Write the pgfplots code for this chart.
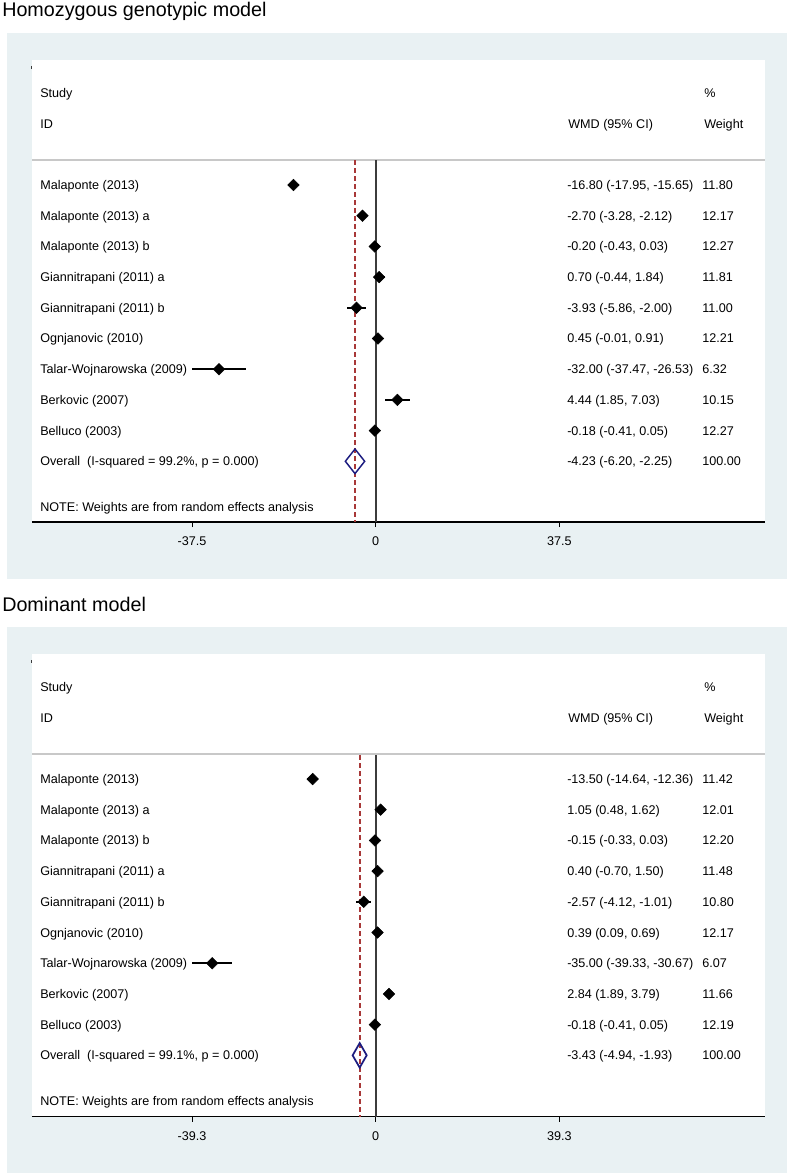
\documentclass[border=0pt]{standalone}
\usepackage{fontspec}
\setmainfont{Liberation Sans}
\usepackage{pgfplots}
\usepackage{pgfplotstable}
\pgfplotsset{compat=1.18}
\definecolor{bgc}{RGB}{233,241,243}
\definecolor{sepc}{RGB}{200,200,200}
\definecolor{zeroc}{RGB}{60,60,60}
\definecolor{dashc}{RGB}{168,56,56}
\definecolor{navyc}{RGB}{28,28,128}

% Homozygous genotypic model
\pgfplotstableread{
row est lo hi
1 -16.80 -17.95 -15.65
2 -2.70 -3.28 -2.12
3 -0.20 -0.43 0.03
4 0.70 -0.44 1.84
5 -3.93 -5.86 -2.00
6 0.45 -0.01 0.91
7 -32.00 -37.47 -26.53
8 4.44 1.85 7.03
9 -0.18 -0.41 0.05
}\tabA
% Dominant model
\pgfplotstableread{
row est lo hi
1 -13.50 -14.64 -12.36
2 1.05 0.48 1.62
3 -0.15 -0.33 0.03
4 0.40 -0.70 1.50
5 -2.57 -4.12 -1.01
6 0.39 0.09 0.69
7 -35.00 -39.33 -30.67
8 2.84 1.89 3.79
9 -0.18 -0.41 0.05
}\tabB

\newcommand\bodyfont{\fontsize{9.45pt}{11pt}\selectfont}
\newcommand\titlefont{\fontsize{14.8pt}{17pt}\selectfont}
\newcommand\rowtxt[5]{%
  \node[anchor=base west,inner sep=0pt] at (40,{#1+185+30.7*(#2-1)+4.5}) {#3};
  \node[anchor=base west,inner sep=0pt] at (567,{#1+185+30.7*(#2-1)+4.5}) {#4};
  \node[anchor=base west,inner sep=0pt] at (702,{#1+185+30.7*(#2-1)+4.5}) {#5};
}
\newcommand\panelbg[2]{% #1 offset, #2 title
  \node[anchor=base west,inner sep=0pt,font=\titlefont] at (2,{#1+17}) {#2};
  \fill[bgc] (7,{#1+33}) rectangle (787,{#1+579});
  \fill[white] (32,{#1+60}) rectangle (765,{#1+522});
  \draw[sepc,line width=1.1pt] (32,{#1+160}) -- (765,{#1+160});
  \draw[zeroc,line width=0.6pt] (31.5,{#1+66}) -- (31.5,{#1+69});
  \node[anchor=base west,inner sep=0pt] at (40,{#1+97.2}) {Study};
  \node[anchor=base west,inner sep=0pt] at (40,{#1+128.5}) {ID};
  \node[anchor=base west,inner sep=0pt] at (568,{#1+128.5}) {WMD (95\% CI)};
  \node[anchor=base west,inner sep=0pt] at (704,{#1+97.5}) {\%};
  \node[anchor=base west,inner sep=0pt] at (704,{#1+128.5}) {Weight};
  \node[anchor=base west,inner sep=0pt] at (40,{#1+511}) {NOTE: Weights are from random effects analysis};
}

\pgfplotsset{forest/.style={
  scale only axis, anchor=south west, y dir=reverse, clip=false,
  axis x line*=bottom, axis y line=none,
  axis line style={black,line width=0.9pt},
  tick align=outside, major tick length=3.75pt,
  tick style={black,line width=0.75pt},
  xticklabel style={font=\bodyfont,anchor=base,yshift=-13.9pt},
}}

\begin{document}
\begin{tikzpicture}
\begin{scope}[x=0.75pt,y=-0.75pt,font=\bodyfont]
\path[use as bounding box] (0,0) rectangle (787,1176);
\panelbg{0}{Homozygous genotypic model}
\rowtxt{0}{1}{Malaponte (2013)}{-16.80 (-17.95, -15.65)}{11.80}
\rowtxt{0}{2}{Malaponte (2013) a}{-2.70 (-3.28, -2.12)}{12.17}
\rowtxt{0}{3}{Malaponte (2013) b}{-0.20 (-0.43, 0.03)}{12.27}
\rowtxt{0}{4}{Giannitrapani (2011) a}{0.70 (-0.44, 1.84)}{11.81}
\rowtxt{0}{5}{Giannitrapani (2011) b}{-3.93 (-5.86, -2.00)}{11.00}
\rowtxt{0}{6}{Ognjanovic (2010)}{0.45 (-0.01, 0.91)}{12.21}
\rowtxt{0}{7}{Talar-Wojnarowska (2009)}{-32.00 (-37.47, -26.53)}{6.32}
\rowtxt{0}{8}{Berkovic (2007)}{4.44 (1.85, 7.03)}{10.15}
\rowtxt{0}{9}{Belluco (2003)}{-0.18 (-0.41, 0.05)}{12.27}
\rowtxt{0}{10}{Overall\ \ (I-squared = 99.2\%, p = 0.000)}{-4.23 (-6.20, -2.25)}{100.00}

\panelbg{594}{Dominant model}
\rowtxt{594}{1}{Malaponte (2013)}{-13.50 (-14.64, -12.36)}{11.42}
\rowtxt{594}{2}{Malaponte (2013) a}{1.05 (0.48, 1.62)}{12.01}
\rowtxt{594}{3}{Malaponte (2013) b}{-0.15 (-0.33, 0.03)}{12.20}
\rowtxt{594}{4}{Giannitrapani (2011) a}{0.40 (-0.70, 1.50)}{11.48}
\rowtxt{594}{5}{Giannitrapani (2011) b}{-2.57 (-4.12, -1.01)}{10.80}
\rowtxt{594}{6}{Ognjanovic (2010)}{0.39 (0.09, 0.69)}{12.17}
\rowtxt{594}{7}{Talar-Wojnarowska (2009)}{-35.00 (-39.33, -30.67)}{6.07}
\rowtxt{594}{8}{Berkovic (2007)}{2.84 (1.89, 3.79)}{11.66}
\rowtxt{594}{9}{Belluco (2003)}{-0.18 (-0.41, 0.05)}{12.19}
\rowtxt{594}{10}{Overall\ \ (I-squared = 99.1\%, p = 0.000)}{-3.43 (-4.94, -1.93)}{100.00}
\end{scope}

% Panel 1 axis
\begin{axis}[forest,
  at={(24pt,-391.5pt)}, width=549.75pt, height=346.5pt,
  xmin=-70.20, xmax=79.51, ymin=-3.072, ymax=11.977,
  xtick={-37.5,0,37.5}, xticklabels={-37.5,0,37.5}]
\addplot[zeroc,line width=1.4pt] coordinates {(0,0.186) (0,11.977)};
\addplot[dashc,line width=1.05pt,dash pattern=on 3.75pt off 2.25pt] coordinates {(-4.23,0.186) (-4.23,11.977)};
\addplot[navyc,line width=1.1pt,line join=miter] coordinates {(-6.20,10) (-4.23,9.6) (-2.25,10) (-4.23,10.4)} --cycle;
\addplot[only marks,mark=square*,mark size=3.05pt,mark options={rotate=45,black},
  error bars/.cd, x dir=both, x explicit, error mark=none,
  error bar style={black,line width=1.1pt}]
  table[x=est,y=row,
    x error plus expr={\thisrow{hi}-\thisrow{est}},
    x error minus expr={\thisrow{est}-\thisrow{lo}}] {\tabA};
\end{axis}

% Panel 2 axis
\begin{axis}[forest,
  at={(24pt,-837.375pt)}, width=549.75pt, height=346.125pt,
  xmin=-73.57, xmax=83.33, ymin=-3.039, ymax=11.993,
  xtick={-39.3,0,39.3}, xticklabels={-39.3,0,39.3}]
\addplot[zeroc,line width=1.4pt] coordinates {(0,0.218) (0,11.993)};
\addplot[dashc,line width=1.35pt,dash pattern=on 3.75pt off 2.25pt] coordinates {(-3.43,0.218) (-3.43,11.993)};
\addplot[navyc,line width=1.3pt,line join=miter] coordinates {(-4.94,10) (-3.43,9.6) (-1.93,10) (-3.43,10.4)} --cycle;
\addplot[only marks,mark=square*,mark size=3.05pt,mark options={rotate=45,black},
  error bars/.cd, x dir=both, x explicit, error mark=none,
  error bar style={black,line width=1.1pt}]
  table[x=est,y=row,
    x error plus expr={\thisrow{hi}-\thisrow{est}},
    x error minus expr={\thisrow{est}-\thisrow{lo}}] {\tabB};
\end{axis}
\end{tikzpicture}
\end{document}
